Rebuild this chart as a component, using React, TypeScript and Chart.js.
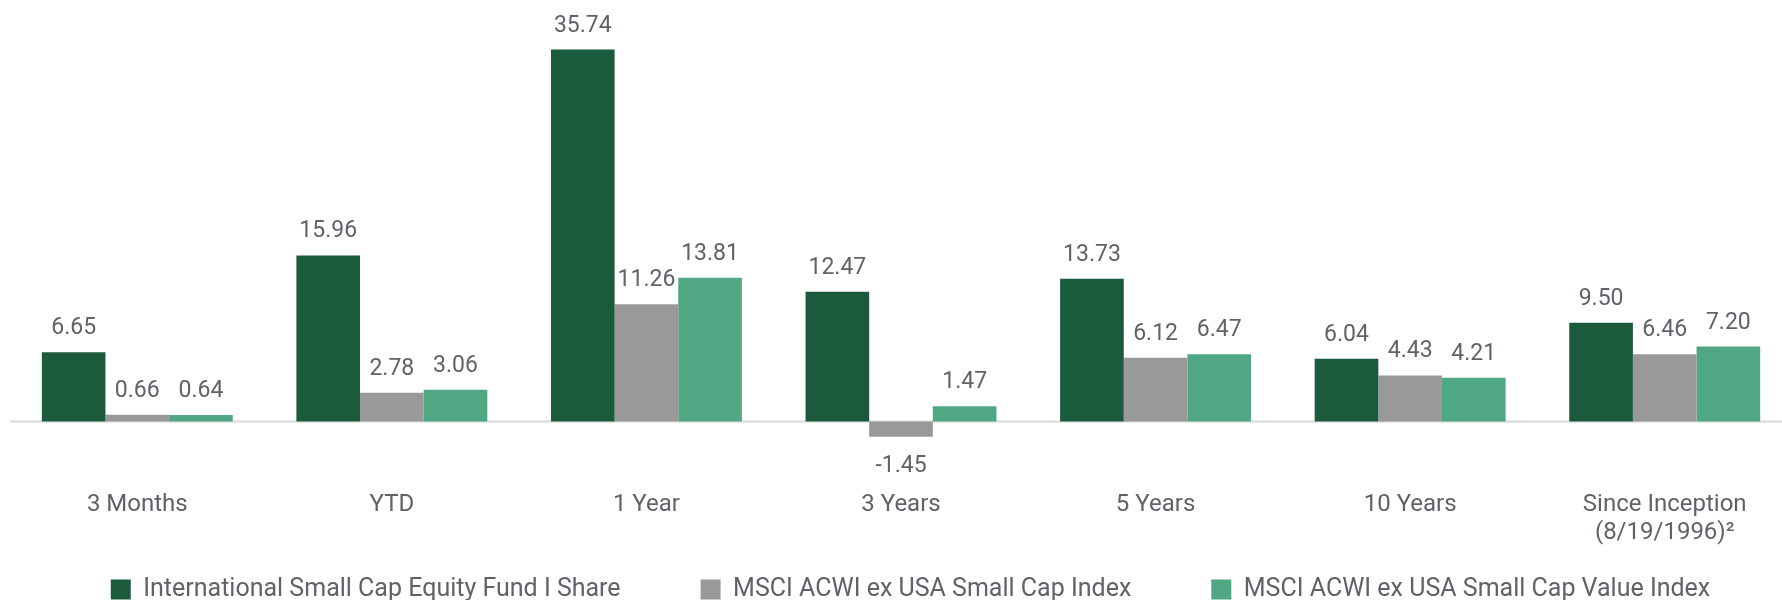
import React, { useEffect, useRef } from 'react';
import { Chart, registerables } from 'chart.js';

Chart.register(...registerables);

const categories: (string | string[])[] = [
  '3 Months',
  'YTD',
  '1 Year',
  '3 Years',
  '5 Years',
  '10 Years',
  ['Since Inception', '(8/19/1996)²'],
];
const seriesNames = [
  'International Small Cap Equity Fund I Share',
  'MSCI ACWI ex USA Small Cap Index',
  'MSCI ACWI ex USA Small Cap Value Index',
];
const fundValues = [6.65, 15.96, 35.74, 12.47, 13.73, 6.04, 9.5];
const indexValues = [0.66, 2.78, 11.26, -1.45, 6.12, 4.43, 6.46];
const valueIndexValues = [0.64, 3.06, 13.81, 1.47, 6.47, 4.21, 7.2];
const seriesColors = ['#1b5a3d', '#999999', '#50a783'];

const TEXT_COLOR = '#5f6368';
const FONT = 'Roboto';

const zeroLinePlugin = {
  id: 'zeroLine',
  beforeDatasetsDraw(chart: any) {
    const { ctx, chartArea, scales } = chart;
    const py = scales.y.getPixelForValue(0);
    ctx.save();
    ctx.strokeStyle = '#d9d9d9';
    ctx.lineWidth = 2;
    ctx.beginPath();
    ctx.moveTo(chartArea.left, py);
    ctx.lineTo(chartArea.right + 19, py);
    ctx.stroke();
    ctx.restore();
  },
};

const valueLabelPlugin = {
  id: 'valueLabels',
  afterDatasetsDraw(chart: any) {
    const { ctx } = chart;
    ctx.save();
    ctx.font = `23px ${FONT}`;
    ctx.fillStyle = TEXT_COLOR;
    ctx.textAlign = 'center';
    ctx.textBaseline = 'alphabetic';
    chart.data.datasets.forEach((ds: any, i: number) => {
      const meta = chart.getDatasetMeta(i);
      meta.data.forEach((el: any, j: number) => {
        const v = ds.data[j] as number;
        const y = v >= 0 ? el.y - 18 : el.y + 35;
        ctx.fillText(v.toFixed(2), el.x, y);
      });
    });
    ctx.restore();
  },
};

export default function App() {
  const canvasRef = useRef<HTMLCanvasElement | null>(null);

  useEffect(() => {
    if (!canvasRef.current) return;
    const seriesData = [fundValues, indexValues, valueIndexValues];
    const chart = new Chart(canvasRef.current, {
      type: 'bar',
      data: {
        labels: categories,
        datasets: seriesNames.map((name, i) => ({
          label: name,
          data: seriesData[i],
          backgroundColor: seriesColors[i],
          borderWidth: 0,
          categoryPercentage: 0.75,
          barPercentage: 1,
        })),
      },
      options: {
        animation: false,
        responsive: false,
        layout: { padding: { left: 10, right: 0, top: 26, bottom: 0 } },
        plugins: {
          legend: {
            position: 'bottom',
            labels: {
              boxWidth: 20,
              boxHeight: 20,
              padding: 80,
              color: TEXT_COLOR,
              font: { family: FONT, size: 25 },
            },
          },
          tooltip: { enabled: false },
        },
        scales: {
          x: {
            grid: { display: false, drawTicks: false },
            border: { display: false },
            ticks: {
              color: TEXT_COLOR,
              font: { family: FONT, size: 24, lineHeight: 1.15 },
              padding: -61,
              mirror: true,
              maxRotation: 0,
              autoSkip: false,
            },
            afterFit: (s: any) => {
              s.height = 39;
            },
          },
          y: {
            position: 'right',
            min: -3.5,
            max: 38,
            grid: { display: false, drawTicks: false },
            border: { display: false },
            ticks: { display: false },
            afterFit: (s: any) => {
              s.width = 19;
            },
          },
        },
      } as any,
      plugins: [zeroLinePlugin, valueLabelPlugin],
    });
    return () => chart.destroy();
  }, []);

  return (
    <div
      style={{
        position: 'fixed',
        left: 0,
        top: 0,
        width: 1782,
        height: 600,
        overflow: 'hidden',
        background: '#ffffff',
      }}
    >
      <canvas
        ref={canvasRef}
        width={1811}
        height={612}
        style={{ display: 'block', width: 1811, height: 612 }}
      />
    </div>
  );
}
